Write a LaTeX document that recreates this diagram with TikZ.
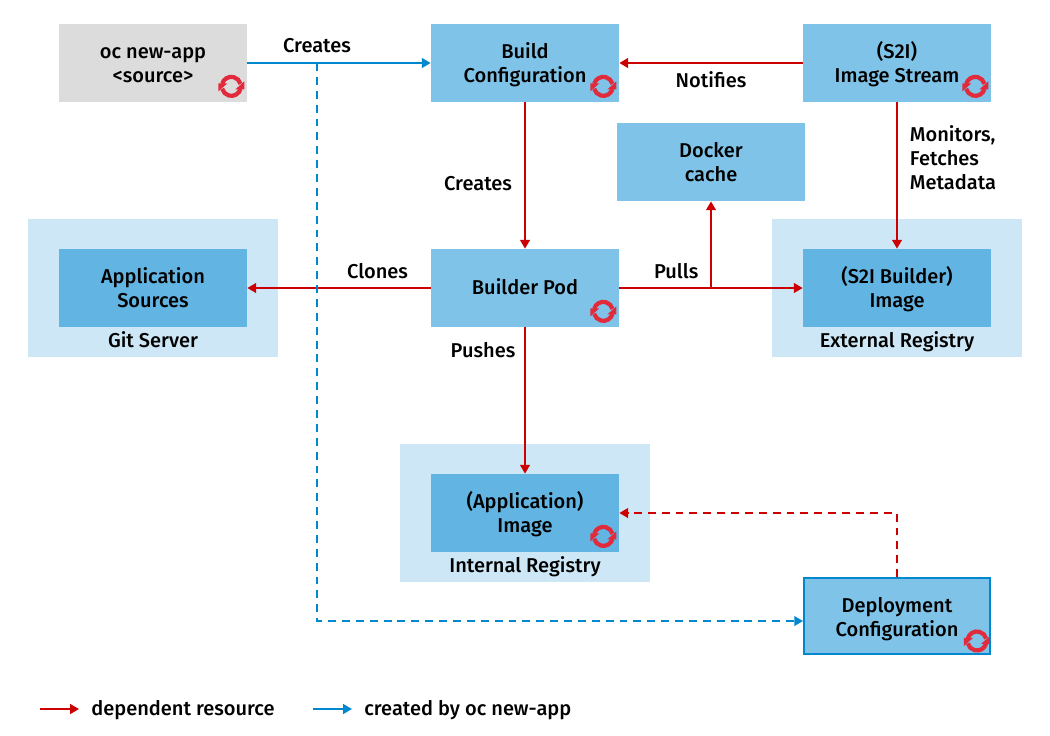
\documentclass[tikz,border=0pt]{standalone}
\usepackage{fontspec}
\setmainfont{Fira Sans Medium}
\usetikzlibrary{arrows.meta}

\definecolor{boxblue}{HTML}{7FC4E8}
\definecolor{innerblue}{HTML}{62B4E2}
\definecolor{paleblue}{HTML}{CDE7F6}
\definecolor{boxgrey}{HTML}{DCDCDC}
\definecolor{linered}{HTML}{CC0000}
\definecolor{lineblue}{HTML}{0088CE}
\definecolor{iconred}{HTML}{E12B3C}

\tikzset{
    every node/.style={font=\fontsize{11.4}{13.6}\selectfont, align=center, inner sep=0pt},
    resbox/.style={rectangle, fill=boxblue, minimum width=3.76cm, minimum height=1.56cm},
    twoline/.style={execute at begin node={\rule{0pt}{#1}}, execute at end node={\rule[-3pt]{0pt}{3pt}}},
    twoline/.default=25pt,
    oneline/.style={execute at begin node={\rule{0pt}{11.4pt}}, execute at end node={\rule[-3pt]{0pt}{3pt}}},
    regbox/.style={rectangle, fill=paleblue, minimum width=5cm, minimum height=2.76cm},
    dep/.style={draw=linered, line width=1.1pt, -{Triangle[length=5pt,width=5.5pt]}},
    made/.style={draw=lineblue, line width=1.1pt, -{Triangle[length=5pt,width=5.5pt]}},
    dashes/.style={dash pattern=on 4.5pt off 3.4pt},
    pics/syncicon/.style={code={
        \begin{scope}[yscale=-1]
            \draw[iconred, line width=2.4pt] (165:9.5) arc (165:15:9.5);
            \draw[iconred, line width=2.4pt] (345:9.5) arc (345:195:9.5);
            \fill[iconred] (13,-3) -- (4,-3) -- (13,5) -- cycle;
            \fill[iconred] (-13,3) -- (-4,3) -- (-13,-5) -- cycle;
        \end{scope}
    }}
}

\begin{document}
\begin{tikzpicture}[x=0.02cm, y=-0.02cm]
    \useasboundingbox (0,0) rectangle (1050,735);

    % registries first, they sit behind the boxes
    \node[regbox] (GitServer) at (153,288) {};
    \node[regbox] (ExternalReg) at (897,288) {};
    \node[regbox] (InternalReg) at (525,513) {};

    \node[resbox, twoline, fill=boxgrey] (NewApp) at (153,63) {oc new-app\\<source>};
    \node[resbox, twoline] (BuildConfig) at (525,63) {Build\\Configuration};
    \node[resbox, twoline] (ImageStream) at (897,63) {(S2I)\\Image Stream};
    \node[resbox, twoline] (DockerCache) at (711,162) {Docker\\cache};
    \node[resbox, twoline, fill=innerblue] (AppSources) at (153,288) {Application\\Sources};
    \node[resbox, twoline=10.4pt] (BuilderPod) at (525,288) {Builder Pod};
    \node[resbox, twoline, fill=innerblue] (BuilderImage) at (897,288) {(S2I Builder)\\Image};
    \node[resbox, twoline, fill=innerblue] (AppImage) at (525,513) {(Application)\\Image};
    \node[resbox, twoline=26pt, draw=lineblue, line width=1.1pt, minimum width=3.72cm, minimum height=1.52cm] (DeployConfig) at (897,616) {Deployment\\Configuration};

    \node[oneline] (GitLabel) at (153,340) {Git Server};
    \node[oneline] (ExternalLabel) at (897,340) {External Registry};
    \node[oneline] (InternalLabel) at (525,565) {Internal Registry};

    \foreach \boxname in {NewApp, BuildConfig, ImageStream, BuilderPod, AppImage}
        \pic at ([xshift=-0.32cm, yshift=0.32cm] \boxname.south east) {syncicon};
    \pic at ([xshift=-0.28cm, yshift=0.28cm] DeployConfig.south east) {syncicon};

    \coordinate (CreatesTurn) at (317,63);
    \coordinate (PullsTurn) at (711,288);
    \coordinate (DeployIn) at ([yshift=-0.1cm] DeployConfig.west);

    \draw[made] (NewApp) -- (BuildConfig) node[pos=0.38, yshift=0.34cm] (CreatesLabel) {Creates};
    \draw[dep] (ImageStream) -- (BuildConfig) node[midway, yshift=-0.34cm] (NotifiesLabel) {Notifies};
    \draw[dep] (BuildConfig) -- (BuilderPod) node[midway, xshift=-0.94cm, yshift=-0.16cm] (PodLabel) {Creates};
    \draw[dep] (BuilderPod) -- (AppSources) node[pos=0.29, yshift=0.34cm] (ClonesLabel) {Clones};
    \draw[dep] (BuilderPod) -- (BuilderImage) node[pos=0.31, yshift=0.34cm] (PullsLabel) {Pulls};
    \draw[dep] (PullsTurn) -- (DockerCache);
    \draw[dep] (ImageStream) -- (BuilderImage) node[pos=0.38, xshift=0.24cm, anchor=west, align=left] (MonitorsLabel) {Monitors,\\Fetches\\Metadata};
    \draw[dep] (BuilderPod) -- (AppImage) node[pos=0.155, xshift=-0.84cm] (PushesLabel) {Pushes};
    \draw[dep, dashes] (DeployConfig) |- (AppImage);
    \draw[made, dashes] (CreatesTurn) |- (DeployIn);

    % legend
    \coordinate (DepStart) at (40,709);
    \coordinate (DepEnd) at (79,709);
    \coordinate (MadeStart) at (313,709);
    \coordinate (MadeEnd) at (352,709);
    \draw[dep] (DepStart) -- (DepEnd);
    \draw[made] (MadeStart) -- (MadeEnd);
    \node[anchor=west, oneline] (DepLabel) at (91,708) {dependent resource};
    \node[anchor=west, oneline] (MadeLabel) at (364,708) {created by oc new-app};
\end{tikzpicture}
\end{document}
